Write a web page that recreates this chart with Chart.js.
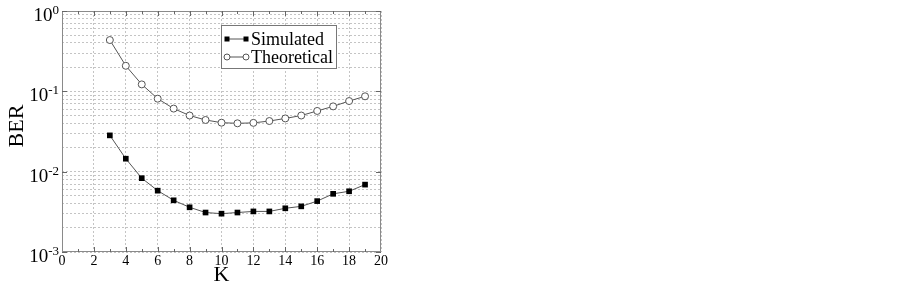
<!DOCTYPE html>
<html>
<head>
<meta charset="utf-8">
<script src="https://cdn.jsdelivr.net/npm/chart.js@4.4.1/dist/chart.umd.min.js"></script>
<style>
  html, body { margin: 0; padding: 0; background: #fff; }
  #wrap { width: 903px; height: 284px; }
</style>
</head>
<body>
<div id="wrap"><canvas id="berChart" width="903" height="284"></canvas></div>
<script>
// BER vs K - simulated and theoretical curves on a log axis
const kValues = [3, 4, 5, 6, 7, 8, 9, 10, 11, 12, 13, 14, 15, 16, 17, 18, 19];
const simulatedBer = [0.0283, 0.0145, 0.0083, 0.0058, 0.0044, 0.0036, 0.0031, 0.0030, 0.0031,
                      0.0032, 0.0032, 0.0035, 0.0037, 0.0043, 0.0053, 0.0057, 0.0069];
const theoreticalBer = [0.435, 0.208, 0.122, 0.081, 0.061, 0.050, 0.044, 0.0407, 0.040,
                        0.0405, 0.0427, 0.046, 0.050, 0.057, 0.065, 0.0757, 0.0867];
const seriesNames = ['Simulated', 'Theoretical'];
const decadeExponents = [-3, -2, -1, 0];
const xTickLabels = [0, 2, 4, 6, 8, 10, 12, 14, 16, 18, 20];

const serif = "'Liberation Serif', 'DejaVu Serif', serif";
const lineColor = '#555555';
const gridColor = '#c4c4c4';
const frameColor = '#8a8a8a';

const toPoints = vals => kValues.map((k, i) => ({ x: k, y: vals[i] }));

// draws the superscript tick labels, the minor ticks, axis titles and the boxed legend
const decorations = {
    id: 'decorations',
    afterDraw(chart) {
        const ctx = chart.ctx;
        const area = chart.chartArea;
        const xs = chart.scales.x;
        const ys = chart.scales.y;
        ctx.save();

        // frame
        ctx.strokeStyle = frameColor;
        ctx.lineWidth = 1;
        ctx.strokeRect(area.left + 0.5, area.top + 0.5, area.right - area.left - 1, area.bottom - area.top - 1);

        // x ticks on top and bottom, minor at odd values
        ctx.strokeStyle = '#666';
        for (let k = 1; k < 20; k++) {
            const px = Math.round(xs.getPixelForValue(k)) + 0.5;
            const len = k % 2 ? 3 : 5;
            ctx.beginPath();
            ctx.moveTo(px, area.bottom);
            ctx.lineTo(px, area.bottom - len);
            ctx.moveTo(px, area.top);
            ctx.lineTo(px, area.top + len);
            ctx.stroke();
        }
        // decade ticks on left/right
        decadeExponents.forEach(e => {
            const py = Math.round(ys.getPixelForValue(Math.pow(10, e))) + 0.5;
            ctx.beginPath();
            ctx.moveTo(area.left, py);
            ctx.lineTo(area.left + 5, py);
            ctx.moveTo(area.right, py);
            ctx.lineTo(area.right - 5, py);
            ctx.stroke();
        });

        // x tick labels
        ctx.fillStyle = '#000';
        ctx.font = '14px ' + serif;
        ctx.textAlign = 'center';
        ctx.textBaseline = 'middle';
        xTickLabels.forEach(v => {
            ctx.fillText(String(v), xs.getPixelForValue(v), area.bottom + 9);
        });

        // y tick labels as 10^e
        decadeExponents.forEach(e => {
            const py = ys.getPixelForValue(Math.pow(10, e));
            ctx.font = '13px ' + serif;
            const expText = e === 0 ? '0' : '-' + Math.abs(e);
            const expW = ctx.measureText(expText).width;
            const expRight = area.left - 3;
            ctx.textAlign = 'right';
            ctx.textBaseline = 'alphabetic';
            ctx.fillText(expText, expRight, py + 3);
            ctx.font = '19px ' + serif;
            ctx.fillText('10', expRight - expW, py + 10);
        });

        // axis titles
        ctx.font = '22px ' + serif;
        ctx.textAlign = 'center';
        ctx.textBaseline = 'middle';
        ctx.fillText('K', (area.left + area.right) / 2, 275);
        ctx.save();
        ctx.translate(17, 126);
        ctx.rotate(-Math.PI / 2);
        ctx.fillText('BER', 0, 0);
        ctx.restore();

        // legend box
        const bx = 221.5, by = 25.5, bw = 115, bh = 43;
        ctx.fillStyle = '#fff';
        ctx.fillRect(bx, by, bw, bh);
        ctx.strokeStyle = '#777';
        ctx.strokeRect(bx, by, bw, bh);
        ctx.font = '18px ' + serif;
        ctx.textAlign = 'left';
        ctx.textBaseline = 'middle';
        chart.data.datasets.forEach((ds, i) => {
            const ry = 39 + i * 18;
            ctx.strokeStyle = lineColor;
            ctx.beginPath();
            ctx.moveTo(227, ry);
            ctx.lineTo(246, ry);
            ctx.stroke();
            [227, 246].forEach(mx => {
                if (ds.pointStyle === 'rect') {
                    ctx.fillStyle = '#000';
                    ctx.fillRect(mx - 2.5, ry - 2.5, 5, 5);
                } else {
                    ctx.fillStyle = '#fff';
                    ctx.beginPath();
                    ctx.arc(mx, ry, 3, 0, Math.PI * 2);
                    ctx.fill();
                    ctx.stroke();
                }
            });
            ctx.fillStyle = '#000';
            ctx.fillText(ds.label, 251, ry + 1);
        });
        ctx.restore();
    }
};

new Chart(document.getElementById('berChart'), {
    type: 'line',
    data: {
        datasets: [
            {
                label: seriesNames[0],
                data: toPoints(simulatedBer),
                borderColor: lineColor,
                borderWidth: 1,
                pointStyle: 'rect',
                pointRadius: 4,
                pointBackgroundColor: '#000',
                pointBorderColor: '#000',
                pointBorderWidth: 0,
                tension: 0
            },
            {
                label: seriesNames[1],
                data: toPoints(theoreticalBer),
                borderColor: lineColor,
                borderWidth: 1,
                pointStyle: 'circle',
                pointRadius: 3.5,
                pointBackgroundColor: '#fff',
                pointBorderColor: lineColor,
                pointBorderWidth: 1,
                tension: 0
            }
        ]
    },
    options: {
        responsive: false,
        animation: false,
        layout: { padding: { top: 11, right: 522, left: 0, bottom: 0 } },
        plugins: {
            legend: { display: false },
            tooltip: { enabled: false }
        },
        scales: {
            x: {
                type: 'linear',
                min: 0,
                max: 20,
                afterFit: s => { s.height = 32; },
                afterBuildTicks: s => { s.ticks = xTickLabels.map(v => ({ value: v })); },
                ticks: { display: false },
                border: { display: false, dash: [2, 2] },
                grid: { color: gridColor, lineWidth: 1, drawTicks: false }
            },
            y: {
                type: 'logarithmic',
                min: 0.001,
                max: 1,
                afterFit: s => { s.width = 62; },
                afterBuildTicks: s => {
                    const t = [];
                    decadeExponents.forEach(e => {
                        for (let m = 1; m <= 9; m++) {
                            const v = m * Math.pow(10, e);
                            if (v <= 1.0000001) t.push({ value: v });
                        }
                    });
                    s.ticks = t;
                },
                ticks: { display: false },
                border: { display: false, dash: [2, 2] },
                grid: { color: gridColor, lineWidth: 1, drawTicks: false }
            }
        }
    },
    plugins: [decorations]
});
</script>
</body>
</html>
